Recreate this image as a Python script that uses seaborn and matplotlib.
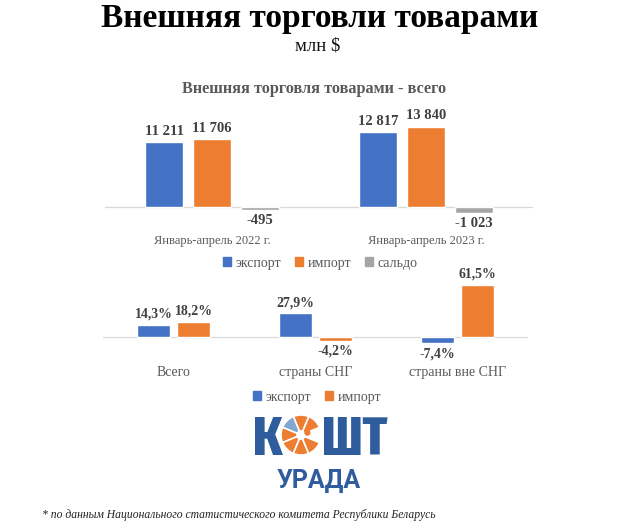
import matplotlib
matplotlib.use("Agg")
import matplotlib.pyplot as plt
from matplotlib.patches import Patch, Wedge, Circle
import pandas as pd
import seaborn as sns

# top chart: total foreign trade, mln $
periods = ["Январь-апрель 2022 г.", "Январь-апрель 2023 г."]
flows = ["экспорт", "импорт", "сальдо"]
export_total = [11211, 12817]
import_total = [11706, 13840]
balance_total = [-495, -1023]

# bottom chart: growth rates, %
regions = ["Всего", "страны СНГ", "страны вне СНГ"]
growth_flows = ["экспорт", "импорт"]
export_growth = [14.3, 27.9, -7.4]
import_growth = [18.2, -4.2, 61.5]

blue, orange, grey = "#4472C4", "#ED7D31", "#A5A5A5"
label_col = "#404040"
axis_text = "#595959"
logo_blue = "#2F5C9C"

sns.set_theme(style="white")
plt.rcParams["font.family"] = ["Liberation Serif", "DejaVu Serif"]

W, H = 634, 531
fig = plt.figure(figsize=(W / 100, H / 100), dpi=100)


def px_axes(left, top, right, bottom):
    return fig.add_axes([left / W, 1 - bottom / H, (right - left) / W, (bottom - top) / H])


def clean(ax):
    for s in ax.spines.values():
        s.set_visible(False)
    ax.set_xlabel("")
    ax.set_ylabel("")
    ax.set_yticks([])
    ax.axhline(0, color="#D9D9D9", lw=0.9, zorder=0)


# ---- top chart
df_top = pd.DataFrame({
    "period": periods * 3,
    "flow": [f for f in flows for _ in periods],
    "value": export_total + import_total + balance_total,
})
ax1 = px_axes(105, 120, 533, 220)
sns.barplot(data=df_top, x="period", y="value", hue="flow", hue_order=flows,
            palette=[blue, orange, grey], width=0.67, gap=0.2, saturation=1,
            errorbar=None, legend=False, ax=ax1)
ax1.set_ylim(-2236, 14964)
clean(ax1)
for c in ax1.containers:
    ax1.bar_label(c, labels=[f"{v:,.0f}".replace(",", " ") for v in c.datavalues],
                  padding=3, fontsize=10.5, fontweight="bold", color=label_col)
ax1.tick_params(axis="x", length=0, pad=11, labelsize=9, labelcolor=axis_text)

# ---- bottom chart
df_bot = pd.DataFrame({
    "region": regions * 2,
    "flow": [f for f in growth_flows for _ in regions],
    "value": export_growth + import_growth,
})
ax2 = px_axes(103, 275, 528, 355)
sns.barplot(data=df_bot, x="region", y="value", hue="flow", hue_order=growth_flows,
            palette=[blue, orange], width=0.565, gap=0.18, saturation=1,
            errorbar=None, legend=False, ax=ax2)
ax2.set_ylim(-21.3, 73.4)
clean(ax2)
for c in ax2.containers:
    ax2.bar_label(c, labels=[f"{v:.1f}%".replace(".", ",") for v in c.datavalues],
                  padding=3, fontsize=10, fontweight="bold", color=label_col)
ax2.tick_params(axis="x", length=0, pad=8, labelsize=10, labelcolor=axis_text)

# ---- legends
leg_kw = dict(loc="center", frameon=False, fontsize=10, handlelength=0.6,
              handleheight=0.6, handletextpad=0.3, columnspacing=1.0,
              labelcolor=axis_text)
fig.legend(handles=[Patch(color=col, label=l) for col, l in zip([blue, orange, grey], flows)],
           bbox_to_anchor=(320 / W, 1 - 263 / H), ncol=3, **leg_kw)
fig.legend(handles=[Patch(color=col, label=l) for col, l in zip([blue, orange], growth_flows)],
           bbox_to_anchor=(317 / W, 1 - 397 / H), ncol=2, **leg_kw)

# ---- titles
fig.text(320 / W, 1 - 27 / H, "Внешняя торговли товарами", ha="center", va="baseline",
         fontsize=24, fontweight="bold", color="black")
fig.text(318 / W, 1 - 51 / H, "млн $", ha="center", va="baseline", fontsize=13.5, color="#111111")
fig.text(314 / W, 1 - 93 / H, "Внешняя торговля товарами - всего", ha="center", va="baseline",
         fontsize=11.7, fontweight="bold", color=axis_text)

# ---- logo
logo_font = ["Fira Sans Extra Condensed", "Roboto"]
fig.text(282 / W, 1 - 455 / H, "К", ha="right", va="baseline", fontsize=39,
         fontweight=800, fontstretch="condensed", family=logo_font, color=logo_blue)
fig.text(322 / W, 1 - 455 / H, "ШТ", ha="left", va="baseline", fontsize=39,
         fontweight=800, fontstretch="condensed", family=logo_font, color=logo_blue)
fig.text(319 / W, 1 - 488 / H, "УРАДА", ha="center", va="baseline", fontsize=18,
         fontweight="bold", family="Roboto", color=logo_blue)
lax = px_axes(281, 415, 321, 455)
lax.set_xlim(-1, 1)
lax.set_ylim(-1, 1)
lax.set_aspect("equal")
lax.axis("off")
for k in range(1, 8):
    mid = k * 45
    col = "#7FA7D0" if mid == 135 else orange
    lax.add_patch(Wedge((0, 0), 1, mid - 22.5, mid + 22.5, width=0.8,
                        facecolor=col, edgecolor="white", lw=1.2))
lax.add_patch(Circle((0.32, 0.12), 0.12, color=orange))

# ---- footnote
fig.text(42 / W, 1 - 518 / H, "* по данным Национального статистического комитета Республики Беларусь",
         ha="left", va="baseline", fontsize=8.4, style="italic", color="#222222")

fig.savefig("out.png", dpi=100, facecolor="white")
